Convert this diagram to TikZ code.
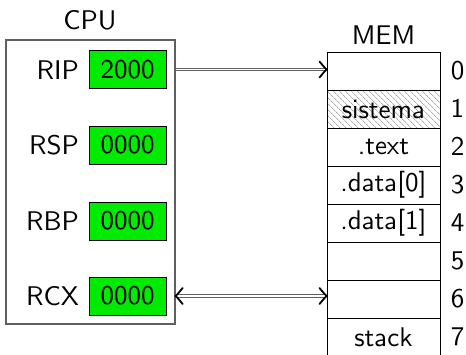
\documentclass[tikz,border=0pt]{standalone}
\usetikzlibrary{patterns.meta}
\definecolor{regfill}{RGB}{0,235,0}
\definecolor{frame}{RGB}{95,95,95}
% text face: the 10pt sans design, enlarged
\font\labelsf=cmss10 at 27pt
\begin{document}
\begin{tikzpicture}[x=1pt,y=-1pt,
  font=\labelsf,
  cpubox/.style={draw=frame, line width=1.3pt, minimum width=169pt, minimum height=284pt, inner sep=0pt},
  regval/.style={draw=black, line width=1pt, fill=regfill, minimum width=77pt, minimum height=38pt, inner sep=0pt},
  reglabel/.style={anchor=east, inner sep=0pt},
  cell/.style={draw=black, line width=1pt, minimum width=113pt, minimum height=38pt, inner sep=0pt},
  hatched/.style={cell, pattern={Lines[angle=-45,distance=4pt,line width=0.55pt]}, pattern color=gray},
  idx/.style={inner sep=0pt},
  dbl/.style={draw=frame, line width=1pt, double=white, double distance=1.6pt},
  tip/.style={draw=black, line width=1.8pt, line cap=round, line join=round},
]
\useasboundingbox (0,0) rectangle (466,354);
\clip (0,0) rectangle (466,354);

% processor with its registers
\node[cpubox] (cpu) at (90.5,182) {};
\node (cpulbl) at (90,20) {CPU};

\node[regval] (rip) at (127.5,69.5) {2000};
\node[regval] (rsp) at (127.5,145) {0000};
\node[regval] (rbp) at (127.5,221) {0000};
\node[regval] (rcx) at (127.5,296) {0000};
\node[reglabel] (riplbl) at (79,70) {RIP};
\node[reglabel] (rsplbl) at (79,145) {RSP};
\node[reglabel] (rbplbl) at (79,221) {RBP};
\node[reglabel] (rcxlbl) at (79,296) {RCX};

% memory column
\node (memlbl) at (383.5,35) {MEM};
\node[cell]    (m0) at (383.5,71)  {};
\node[hatched] (m1) at (383.5,109) {};
\node (m1txt) at (m1) {sistema};
\node[cell]    (m2) at (383.5,147) {.text};
\node[cell]    (m3) at (383.5,185) {.data[0]};
\node[cell]    (m4) at (383.5,223) {.data[1]};
\node[cell]    (m5) at (383.5,261) {};
\node[cell]    (m6) at (383.5,299) {};
\node[cell]    (m7) at (383.5,337) {stack};

\foreach \i in {0,...,7}
  \node[idx] (n\i) at ([xshift=17pt]m\i.east) {\i};

% buses between registers and memory
\coordinate (a0) at (cpu.east |- rip);
\coordinate (b0) at (m0.west |- rip);
\draw[dbl] (a0) -- ([xshift=-1.5pt]b0);
\draw[tip] ([shift={(-7pt,-8pt)}]b0) .. controls ([shift={(-2pt,-2pt)}]b0) .. (b0)
           .. controls ([shift={(-2pt,2pt)}]b0) .. ([shift={(-7pt,8pt)}]b0);

\coordinate (a6) at (cpu.east |- rcx);
\coordinate (b6) at (m6.west |- rcx);
\draw[dbl] ([xshift=1.5pt]a6) -- ([xshift=-1.5pt]b6);
\draw[tip] ([shift={(-7pt,-8pt)}]b6) .. controls ([shift={(-2pt,-2pt)}]b6) .. (b6)
           .. controls ([shift={(-2pt,2pt)}]b6) .. ([shift={(-7pt,8pt)}]b6);
\draw[tip] ([shift={(7pt,-8pt)}]a6) .. controls ([shift={(2pt,-2pt)}]a6) .. (a6)
           .. controls ([shift={(2pt,2pt)}]a6) .. ([shift={(7pt,8pt)}]a6);
\end{tikzpicture}
\end{document}
